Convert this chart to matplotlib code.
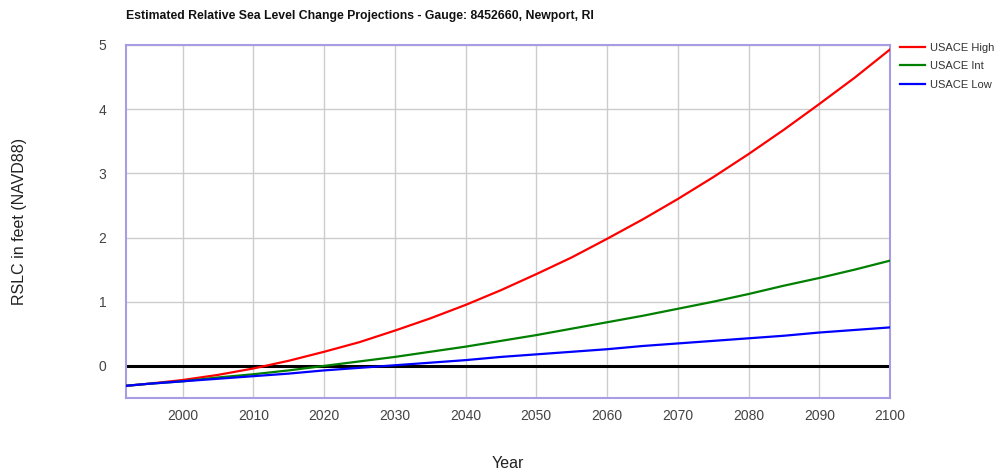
import matplotlib
matplotlib.use("Agg")
from matplotlib import pyplot as plt

plt.rcParams['font.family'] = ['Liberation Sans', 'DejaVu Sans']

# Data (feet, NAVD88)
years = [1992, 1995, 2000, 2005, 2010, 2015, 2020, 2025, 2030, 2035, 2040, 2045,
         2050, 2055, 2060, 2065, 2070, 2075, 2080, 2085, 2090, 2095, 2100]
usace_high = [-0.31, -0.28, -0.22, -0.14, -0.04, 0.08, 0.22, 0.37, 0.55, 0.74, 0.95, 1.18,
              1.43, 1.69, 1.98, 2.28, 2.60, 2.94, 3.30, 3.68, 4.08, 4.49, 4.93]
usace_int = [-0.31, -0.28, -0.24, -0.18, -0.13, -0.07, 0.00, 0.07, 0.14, 0.22, 0.30, 0.39,
             0.48, 0.58, 0.68, 0.78, 0.89, 1.00, 1.12, 1.25, 1.37, 1.50, 1.64]
usace_low = [-0.31, -0.28, -0.24, -0.20, -0.16, -0.12, -0.07, -0.03, 0.01, 0.05, 0.09, 0.14,
             0.18, 0.22, 0.26, 0.31, 0.35, 0.39, 0.43, 0.47, 0.52, 0.56, 0.60]
x_ticks = [2000, 2010, 2020, 2030, 2040, 2050, 2060, 2070, 2080, 2090, 2100]
y_ticks = [0, 1, 2, 3, 4, 5]

fig = plt.figure(figsize=(10.08, 4.74), dpi=100)
ax = fig.add_axes([126 / 1008, 1 - 398 / 474, (890 - 126) / 1008, (398 - 45) / 474])

ax.plot(years, usace_high, color='#ff0000', lw=1.6, label='USACE High', zorder=3)
ax.plot(years, usace_int, color='#008000', lw=1.6, label='USACE Int', zorder=3)
ax.plot(years, usace_low, color='#0000ff', lw=1.6, label='USACE Low', zorder=3)
ax.axhline(0, color='black', lw=2.2, zorder=2)

ax.set_xlim(1992, 2100)
ax.set_ylim(-0.5, 5)
ax.set_xticks(x_ticks)
ax.set_yticks(y_ticks)
ax.grid(True, color='#cccccc', lw=1)
ax.set_axisbelow(True)
ax.tick_params(length=0, labelsize=10, labelcolor='#444444')
ax.tick_params(axis='y', pad=14)
ax.tick_params(axis='x', pad=8)
for s in ax.spines.values():
    s.set_color('#a89ce6')
    s.set_linewidth(1.5)

fig.text(126 / 1008, 1 - 16 / 474, 'Estimated Relative Sea Level Change Projections - Gauge: 8452660, Newport, RI',
         fontsize=8.8, fontweight='bold', va='center', ha='left', color='#111111')
fig.text(20 / 1008, 1 - 221 / 474, 'RSLC in feet (NAVD88)', rotation=90, fontsize=11.5,
         va='center', ha='center', color='#222222')
fig.text(508 / 1008, 1 - 463 / 474, 'Year', fontsize=11.5, va='center', ha='center', color='#222222')

ax.legend(loc='upper left', bbox_to_anchor=(1.005, 1.025), frameon=False, fontsize=8,
          handlelength=2.2, handletextpad=0.5, labelspacing=0.75, borderaxespad=0.2,
          labelcolor='#333333')

fig.savefig('out.png', dpi=100)
